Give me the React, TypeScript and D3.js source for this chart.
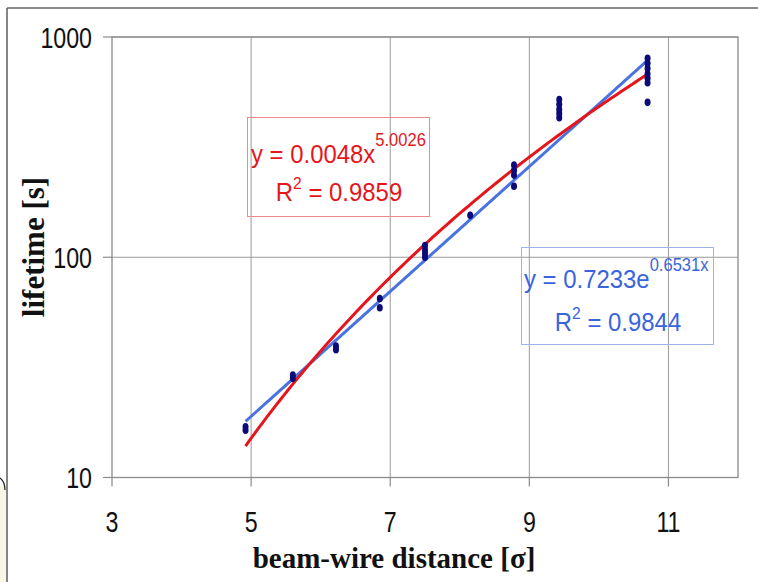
import React from "react";
import * as d3 from "d3";

// ---- data ----
const distances = [
  4.92, 4.92,
  5.6, 5.6,
  6.22, 6.22,
  6.85, 6.85,
  7.5, 7.5, 7.5, 7.5,
  8.15,
  8.78, 8.78, 8.78, 8.78,
  9.43, 9.43, 9.43, 9.43, 9.43,
  10.7, 10.7, 10.7, 10.7, 10.7, 10.7, 10.7,
];
const lifetimes = [
  16.4, 17.0,
  28.2, 29.2,
  38.0, 39.5,
  59, 65,
  100, 104, 108, 113,
  155,
  210, 236, 248, 262,
  430, 450, 470, 495, 520,
  505, 620, 650, 680, 720, 760, 800,
];
const xTicks = [3, 5, 7, 9, 11];
const yTicks = [10, 100, 1000];
// Trendline coefficients as printed on the chart
const powerCoef = 0.0048;
const powerExp = 5.0026;
const expCoef = 0.7233;
const expRate = 0.6531;
const fitRange = [4.92, 10.7];

const W = 758;
const H = 582;
const M = { left: 112, right: 738, top: 37, bottom: 477.5 };

const narrow = "'Liberation Sans', Arial, sans-serif";

export default function App() {
  const x = d3.scaleLinear().domain([3, 12]).range([M.left, M.right]);
  const y = d3.scaleLog().domain([10, 1000]).range([M.bottom, M.top]);

  const samples = d3.range(fitRange[0], fitRange[1] + 1e-9, 0.05).concat([fitRange[1]]);
  const line = d3
    .line<[number, number]>()
    .x((d) => x(d[0]))
    .y((d) => y(d[1]))
    .curve(d3.curveLinear);
  const powerPath = line(samples.map((v) => [v, powerCoef * Math.pow(v, powerExp)]));
  const expPath = line(samples.map((v) => [v, expCoef * Math.exp(expRate * v)]));

  const grid = "#9a9a9a";
  const axis = "#8a8a8a";

  return (
    <svg
      width={W}
      height={H}
      style={{ position: "absolute", left: 0, top: 0, background: "#fff" }}
    >
      <rect x={0} y={0} width={W} height={H} fill="#fff" />
      {/* outer slide frame */}
      <rect x={0} y={486} width={6} height={H - 486} fill="#f8f8e4" />
      <path d="M0,478 Q5,482 5,490" fill="none" stroke="#222" strokeWidth={1.2} />
      <line x1={7} y1={8} x2={W} y2={8} stroke="#666" strokeWidth={1.6} />
      <line x1={7} y1={8} x2={7} y2={H} stroke="#666" strokeWidth={1.6} />

      {/* gridlines */}
      {xTicks
        .filter((t) => t > 3)
        .map((t) => (
          <line key={"gx" + t} x1={x(t)} x2={x(t)} y1={M.top} y2={M.bottom} stroke={grid} strokeWidth={1} />
        ))}
      {yTicks.map((t) => (
        <line key={"gy" + t} x1={M.left} x2={M.right} y1={y(t)} y2={y(t)} stroke={grid} strokeWidth={1} />
      ))}
      {/* plot border */}
      <rect
        x={M.left}
        y={M.top}
        width={M.right - M.left}
        height={M.bottom - M.top}
        fill="none"
        stroke={axis}
        strokeWidth={1.3}
      />
      {/* ticks */}
      {yTicks.map((t) => (
        <line key={"ty" + t} x1={M.left - 9} x2={M.left} y1={y(t)} y2={y(t)} stroke={axis} strokeWidth={1.2} />
      ))}
      {xTicks.map((t) => (
        <line key={"tx" + t} x1={x(t)} x2={x(t)} y1={M.bottom} y2={M.bottom + 9} stroke={axis} strokeWidth={1.2} />
      ))}
      {/* tick labels */}
      {yTicks.map((t) => (
        <text
          key={"ly" + t}
          transform={`translate(${M.left - 20},${y(t) + 10.5}) scale(0.8,1)`}
          textAnchor="end"
          fontFamily={narrow}
          fontSize={29}
          fill="#111"
        >
          {t}
        </text>
      ))}
      {xTicks.map((t) => (
        <text
          key={"lx" + t}
          transform={`translate(${x(t)},${532}) scale(0.8,1)`}
          textAnchor="middle"
          fontFamily={narrow}
          fontSize={29}
          fill="#111"
        >
          {t}
        </text>
      ))}

      {/* axis titles */}
      <text
        x={394}
        y={568}
        textAnchor="middle"
        fontFamily="'Liberation Serif', 'Times New Roman', serif"
        fontWeight="bold"
        fontSize={29}
        fill="#111"
      >
        beam-wire distance [σ]
      </text>
      <text
        transform={`translate(44,247) rotate(-90)`}
        textAnchor="middle"
        fontFamily="'Liberation Serif', 'Times New Roman', serif"
        fontWeight="bold"
        fontSize={31}
        fill="#111"
      >
        lifetime [s]
      </text>

      {/* trendlines */}
      <path d={expPath || ""} fill="none" stroke="#4a73e0" strokeWidth={3} />
      <path d={powerPath || ""} fill="none" stroke="#e4161c" strokeWidth={3} />

      {/* data points */}
      {distances.map((d, i) => (
        <ellipse key={"p" + i} cx={x(d)} cy={y(lifetimes[i])} rx={3} ry={3.8} fill="#0a0a78" />
      ))}

      {/* red equation box */}
      <rect x={247.5} y={117.5} width={182} height={99} fill="none" stroke="#ec8a8a" strokeWidth={1} />
      <text
        transform={`translate(251,163) scale(0.92,1)`}
        fontFamily={narrow}
        fontSize={26}
        fill="#e4161c"
      >
        y = 0.0048x
        <tspan dy={-17} fontSize={18}>
          5.0026
        </tspan>
      </text>
      <text
        transform={`translate(339,201) scale(0.92,1)`}
        textAnchor="middle"
        fontFamily={narrow}
        fontSize={26}
        fill="#e4161c"
      >
        R
        <tspan dy={-12} fontSize={17}>
          2
        </tspan>
        <tspan dy={12}> = 0.9859</tspan>
      </text>

      {/* blue equation box */}
      <rect x={521.5} y={247.5} width={192} height={97} fill="none" stroke="#9fb3ea" strokeWidth={1} />
      <text
        transform={`translate(524,288) scale(0.92,1)`}
        fontFamily={narrow}
        fontSize={26}
        fill="#3a64dc"
      >
        y = 0.7233e
        <tspan dy={-17} fontSize={18}>
          0.6531x
        </tspan>
      </text>
      <text
        transform={`translate(618,331) scale(0.92,1)`}
        textAnchor="middle"
        fontFamily={narrow}
        fontSize={26}
        fill="#3a64dc"
      >
        R
        <tspan dy={-12} fontSize={17}>
          2
        </tspan>
        <tspan dy={12}> = 0.9844</tspan>
      </text>
    </svg>
  );
}
